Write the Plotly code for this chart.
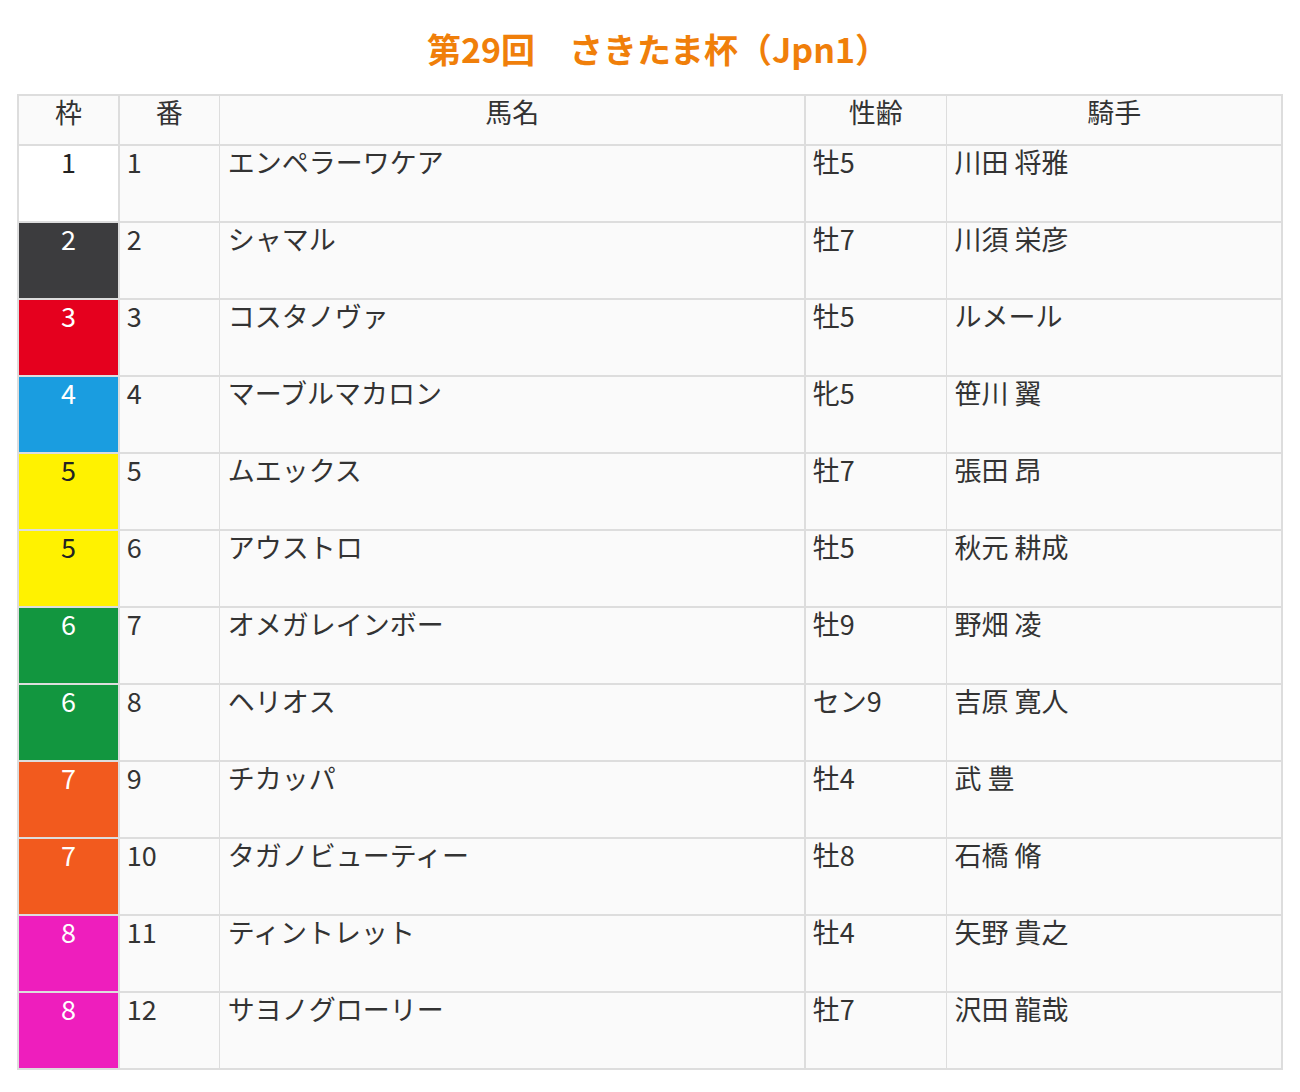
import plotly.graph_objects as go

title = "第29回　さきたま杯（Jpn1）"
headers = ["枠", "番", "馬名", "性齢", "騎手"]
waku = [1, 2, 3, 4, 5, 5, 6, 6, 7, 7, 8, 8]
umaban = list(range(1, 13))
names = ["エンペラーワケア", "シャマル", "コスタノヴァ", "マーブルマカロン", "ムエックス",
         "アウストロ", "オメガレインボー", "ヘリオス", "チカッパ", "タガノビューティー",
         "ティントレット", "サヨノグローリー"]
sexage = ["牡5", "牡7", "牡5", "牝5", "牡7", "牡5", "牡9", "セン9", "牡4", "牡8", "牡4", "牡7"]
jockeys = ["川田 将雅", "川須 栄彦", "ルメール", "笹川 翼", "張田 昂", "秋元 耕成",
           "野畑 凌", "吉原 寛人", "武 豊", "石橋 脩", "矢野 貴之", "沢田 龍哉"]

waku_fill = {1: "#ffffff", 2: "#3c3c3e", 3: "#e5001e", 4: "#1a9de0",
             5: "#fff200", 6: "#12963f", 7: "#f25a1e", 8: "#ee1ebd"}
waku_font = {1: "#222", 5: "#222"}

bg = "#fafafa"
n = len(waku)
fills = [[waku_fill[w] for w in waku]] + [[bg] * n] * 4
fcolors = [[waku_font.get(w, "#ffffff") for w in waku]] + [["#333"] * n] * 4

fig = go.Figure(go.Table(
    domain=dict(x=[10 / 1300, 1274 / 1300], y=[0.0, 1 - 87 / 1092]),
    columnwidth=[101, 101, 586, 142, 336],
    header=dict(values=headers, height=50, fill_color=bg,
                line=dict(color="#dddddd", width=1.5),
                align="center",
                font=dict(family="Noto Sans CJK JP", size=27, color="#333")),
    cells=dict(values=[waku, umaban, names, sexage, jockeys], height=77,
               fill_color=fills,
               line=dict(color="#dddddd", width=1.5),
               align=["center", "left", "left", "left", "left"],
               font=dict(family="Noto Sans CJK JP", size=27, color=fcolors)),
))
fig.update_layout(
    width=1300, height=1092, margin=dict(l=0, r=0, t=0, b=0),
    paper_bgcolor="white",
    title=dict(text="<b>" + title + "</b>", x=0.5, y=1 - 43 / 1092,
               xanchor="center", yanchor="middle",
               font=dict(family="Noto Sans CJK JP", size=34, color="#f07f0a")),
)
fig.write_html("out.html")
